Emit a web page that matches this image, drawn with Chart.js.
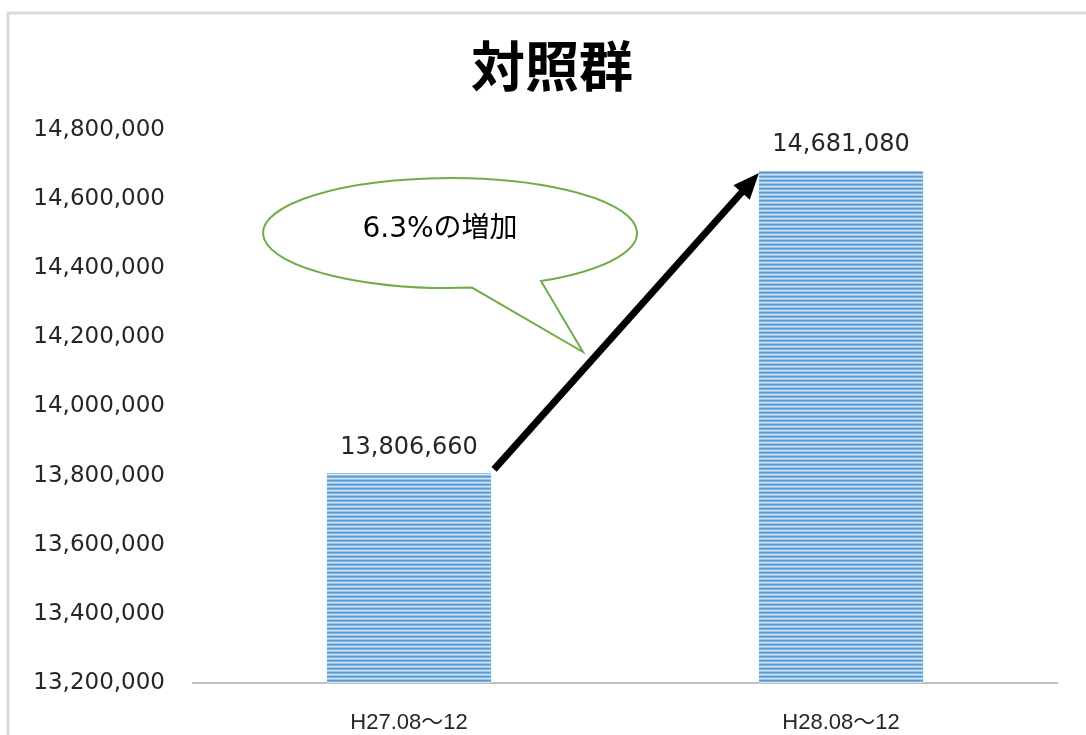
<!DOCTYPE html>
<html>
<head>
<meta charset="utf-8">
<script src="https://cdn.jsdelivr.net/npm/chart.js@4"></script>
<style>
  html, body { margin: 0; padding: 0; background: #fff; }
  #wrap { width: 1086px; height: 735px; position: relative; }
</style>
</head>
<body>
<div id="wrap"><canvas id="groupChart"></canvas></div>
<script>
const chartTitle = "対照群";
const categories = ["H27.08～12", "H28.08～12"];
const values = [13806660, 14681080];
const tickLabels = ["13,200,000", "13,400,000", "13,600,000", "13,800,000", "14,000,000",
                    "14,200,000", "14,400,000", "14,600,000", "14,800,000"];
const bubbleText = "6.3%の増加";

const numFont = "'DejaVu Sans', 'Noto Sans CJK JP', sans-serif";

// horizontal stripe fill like the original bars
function makeStripes(ctx) {
    const c = document.createElement("canvas");
    c.width = 8;
    c.height = 4;
    const p = c.getContext("2d");
    const rows = ["#5B9BD5", "#7FB0E0", "#D3E4F5", "#9DC3E6"];
    rows.forEach((col, i) => {
        p.fillStyle = col;
        p.fillRect(0, i, 8, 1);
    });
    return ctx.createPattern(c, "repeat");
}

const decorations = {
    id: "decorations",
    beforeDraw(chart) {
        const ctx = chart.ctx;
        ctx.save();
        // outer frame
        ctx.strokeStyle = "#d9d9d9";
        ctx.lineWidth = 3;
        ctx.beginPath();
        ctx.moveTo(8, 735);
        ctx.lineTo(8, 13);
        ctx.lineTo(1086, 13);
        ctx.stroke();
        // title
        ctx.fillStyle = "#000";
        ctx.font = "bold 54px 'Noto Sans CJK JP', sans-serif";
        ctx.textAlign = "center";
        ctx.textBaseline = "middle";
        ctx.fillText(chartTitle, 552, 66);
        ctx.restore();
    },
    afterDatasetsDraw(chart) {
        const ctx = chart.ctx;
        const bars = chart.getDatasetMeta(0).data;
        ctx.save();

        // value labels
        ctx.fillStyle = "#262626";
        ctx.font = "24px " + numFont;
        ctx.textAlign = "center";
        ctx.textBaseline = "middle";
        bars.forEach((bar, i) => {
            ctx.fillText(values[i].toLocaleString("en-US"), bar.x, bar.y - 26);
        });

        // arrow from first bar to second bar
        const b1 = bars[0], b2 = bars[1];
        const x1 = b1.x + b1.width / 2 + 3, y1 = b1.y - 4;
        const x2 = b2.x - b2.width / 2, y2 = b2.y + 2;
        const ang = Math.atan2(y2 - y1, x2 - x1);
        const head = 26;
        const bx = x2 - head * Math.cos(ang), by = y2 - head * Math.sin(ang);
        ctx.strokeStyle = "#000";
        ctx.lineWidth = 7;
        ctx.beginPath();
        ctx.moveTo(x1, y1);
        ctx.lineTo(bx + 2 * Math.cos(ang), by + 2 * Math.sin(ang));
        ctx.stroke();
        ctx.fillStyle = "#000";
        ctx.beginPath();
        ctx.moveTo(x2, y2);
        ctx.lineTo(bx + 11 * Math.sin(ang), by - 11 * Math.cos(ang));
        ctx.lineTo(bx - 11 * Math.sin(ang), by + 11 * Math.cos(ang));
        ctx.closePath();
        ctx.fill();

        // speech bubble
        const cx = 450, cy = 233, rx = 187, ry = 55;
        const t1 = Math.acos((472 - cx) / rx);
        const t2 = Math.acos((541 - cx) / rx);
        ctx.fillStyle = "#fff";
        ctx.strokeStyle = "#70AD47";
        ctx.lineWidth = 2;
        ctx.beginPath();
        ctx.ellipse(cx, cy, rx, ry, 0, t1, t2 + 2 * Math.PI, false);
        ctx.lineTo(583, 352);
        ctx.closePath();
        ctx.fill();
        ctx.stroke();

        ctx.fillStyle = "#000";
        ctx.font = "28px " + numFont;
        ctx.textAlign = "center";
        ctx.textBaseline = "middle";
        ctx.fillText(bubbleText, 440, 230);
        ctx.restore();
    }
};

const canvas = document.getElementById("groupChart");
const ctx = canvas.getContext("2d");

new Chart(ctx, {
    type: "bar",
    data: {
        labels: categories,
        datasets: [{
            data: values,
            backgroundColor: makeStripes(ctx),
            borderWidth: 0,
            barPercentage: 0.38,
            categoryPercentage: 1
        }]
    },
    options: {
        responsive: true,
        maintainAspectRatio: false,
        animation: false,
        layout: {
            padding: { top: 130, right: 29, bottom: 0, left: 0 }
        },
        plugins: {
            legend: { display: false },
            tooltip: { enabled: false },
            title: { display: false }
        },
        scales: {
            x: {
                grid: { display: false, drawTicks: false },
                border: { display: true, color: "#bfbfbf", width: 2 },
                afterFit(scale) { scale.height = 52; },
                ticks: {
                    color: "#262626",
                    padding: 27,
                    font: { family: "'Liberation Sans', 'Noto Sans CJK JP', sans-serif", size: 22 }
                }
            },
            y: {
                min: 13200000,
                max: 14800000,
                grid: { display: false, drawTicks: false },
                border: { display: false },
                afterFit(scale) { scale.width = 193; },
                ticks: {
                    stepSize: 200000,
                    color: "#262626",
                    padding: 28,
                    font: { family: numFont, size: 23 },
                    callback: (v, i) => tickLabels[i]
                }
            }
        }
    },
    plugins: [decorations]
});
</script>
</body>
</html>
